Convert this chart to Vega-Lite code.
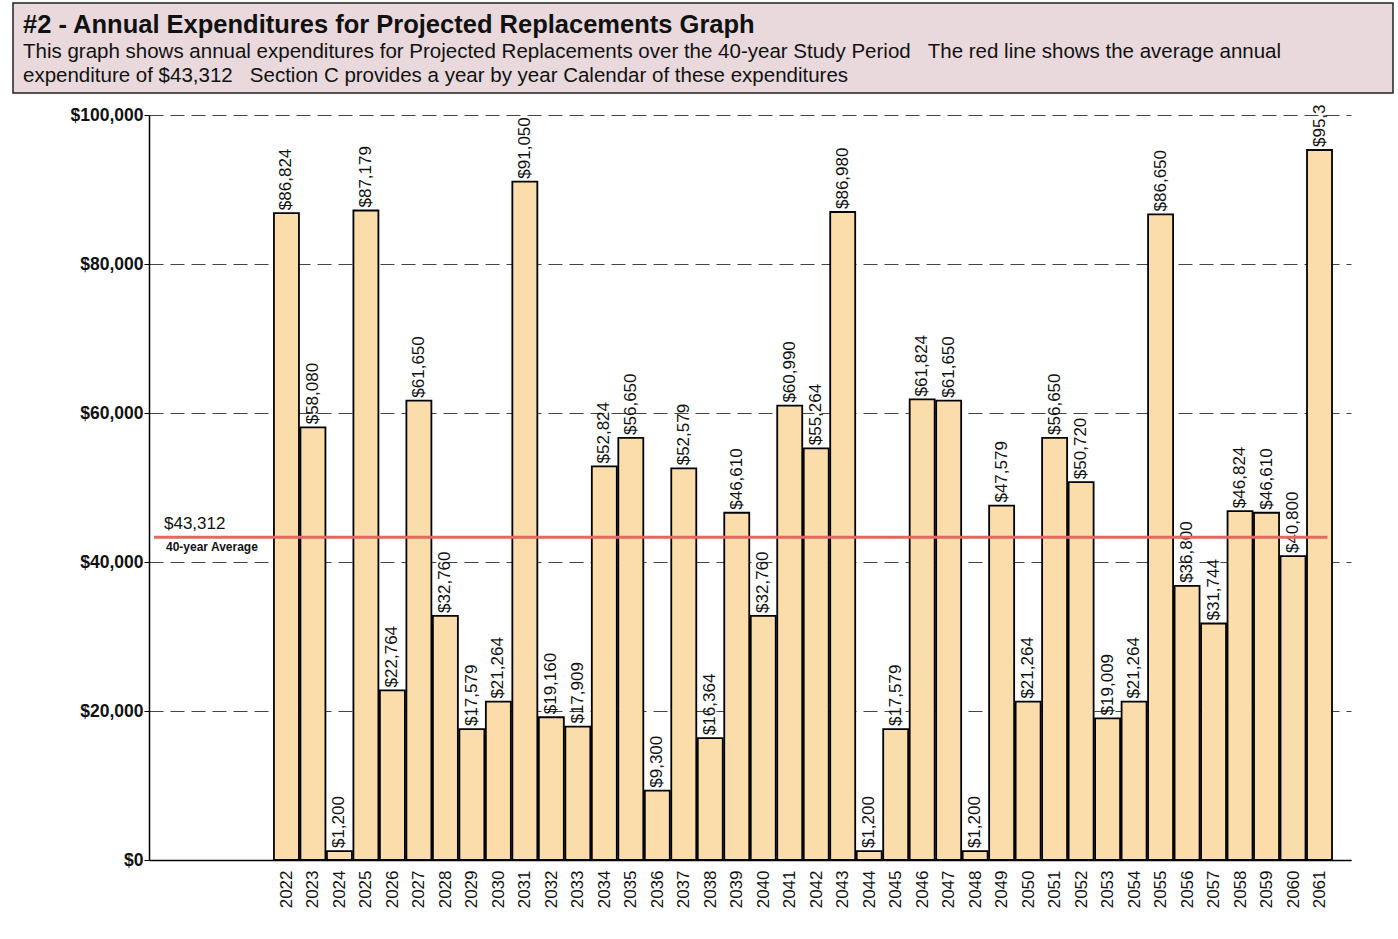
{
  "$schema": "https://vega.github.io/schema/vega-lite/v6.json",
  "background": "white",
  "padding": {"left": 12, "top": 2, "right": 0, "bottom": 0},
  "spacing": 10,
  "config": {
    "font": "Liberation Sans",
    "view": {"stroke": null},
    "axisX": {"labelOverlap": false}
  },
  "datasets": {
    "spend": [
      {"year": 2022, "value": 86824, "label": "$86,824"},
      {"year": 2023, "value": 58080, "label": "$58,080"},
      {"year": 2024, "value": 1200, "label": "$1,200"},
      {"year": 2025, "value": 87179, "label": "$87,179"},
      {"year": 2026, "value": 22764, "label": "$22,764"},
      {"year": 2027, "value": 61650, "label": "$61,650"},
      {"year": 2028, "value": 32760, "label": "$32,760"},
      {"year": 2029, "value": 17579, "label": "$17,579"},
      {"year": 2030, "value": 21264, "label": "$21,264"},
      {"year": 2031, "value": 91050, "label": "$91,050"},
      {"year": 2032, "value": 19160, "label": "$19,160"},
      {"year": 2033, "value": 17909, "label": "$17,909"},
      {"year": 2034, "value": 52824, "label": "$52,824"},
      {"year": 2035, "value": 56650, "label": "$56,650"},
      {"year": 2036, "value": 9300, "label": "$9,300"},
      {"year": 2037, "value": 52579, "label": "$52,579"},
      {"year": 2038, "value": 16364, "label": "$16,364"},
      {"year": 2039, "value": 46610, "label": "$46,610"},
      {"year": 2040, "value": 32760, "label": "$32,760"},
      {"year": 2041, "value": 60990, "label": "$60,990"},
      {"year": 2042, "value": 55264, "label": "$55,264"},
      {"year": 2043, "value": 86980, "label": "$86,980"},
      {"year": 2044, "value": 1200, "label": "$1,200"},
      {"year": 2045, "value": 17579, "label": "$17,579"},
      {"year": 2046, "value": 61824, "label": "$61,824"},
      {"year": 2047, "value": 61650, "label": "$61,650"},
      {"year": 2048, "value": 1200, "label": "$1,200"},
      {"year": 2049, "value": 47579, "label": "$47,579"},
      {"year": 2050, "value": 21264, "label": "$21,264"},
      {"year": 2051, "value": 56650, "label": "$56,650"},
      {"year": 2052, "value": 50720, "label": "$50,720"},
      {"year": 2053, "value": 19009, "label": "$19,009"},
      {"year": 2054, "value": 21264, "label": "$21,264"},
      {"year": 2055, "value": 86650, "label": "$86,650"},
      {"year": 2056, "value": 36800, "label": "$36,800"},
      {"year": 2057, "value": 31744, "label": "$31,744"},
      {"year": 2058, "value": 46824, "label": "$46,824"},
      {"year": 2059, "value": 46610, "label": "$46,610"},
      {"year": 2060, "value": 40800, "label": "$40,800"},
      {"year": 2061, "value": 95300, "label": "$95,3"}
    ],
    "avg": [
      {"avg": 43312, "start": 2017, "end": 2061.3, "amount": "$43,312", "caption": "40-year Average"}
    ]
  },
  "vconcat": [
    {
      "width": 1380,
      "height": 90,
      "view": {"fill": "#e9d9dc", "stroke": "#222", "strokeWidth": 1.5},
      "data": {"values": [{"t": ""}]},
      "mark": {"type": "text", "text": ""},
      "encoding": {},
      "title": {
        "text": "#2 - Annual Expenditures for Projected Replacements Graph",
        "subtitle": [
          "This graph shows annual expenditures for Projected Replacements over the 40-year Study Period\u00a0\u00a0\u00a0The red line shows the average annual",
          "expenditure of $43,312\u00a0\u00a0\u00a0Section C provides a year by year Calendar of these expenditures"
        ],
        "anchor": "start",
        "frame": "group",
        "orient": "top",
        "offset": -83,
        "dx": 10,
        "fontSize": 25.5,
        "fontWeight": "bold",
        "color": "#111",
        "subtitleFontSize": 20.5,
        "subtitleColor": "#111",
        "subtitlePadding": 3,
        "subtitleLineHeight": 24
      }
    },
    {
      "spacing": 0,
      "hconcat": [
        {
          "width": 42,
          "height": 745,
          "data": {"values": [{"t": ""}]},
          "mark": {"type": "text", "text": ""},
          "encoding": {}
        },
        {
          "width": 1202,
          "height": 745,
          "encoding": {
            "x": {
              "field": "year", "type": "quantitative",
              "scale": {"domain": [2017, 2062], "nice": false, "zero": false},
              "axis": {
                "title": null,
                "values": [2022,2023,2024,2025,2026,2027,2028,2029,2030,2031,2032,2033,2034,2035,2036,2037,2038,2039,2040,2041,2042,2043,2044,2045,2046,2047,2048,2049,2050,2051,2052,2053,2054,2055,2056,2057,2058,2059,2060,2061],
                "format": "d",
                "labelAngle": 270,
                "labelAlign": "right",
                "labelBaseline": "middle",
                "labelFontSize": 17,
                "labelColor": "#111",
                "labelPadding": 10,
                "labelOverlap": false,
                "ticks": false,
                "grid": false,
                "domainColor": "#000",
                "domainWidth": 1.5
              }
            },
            "y": {
              "field": "value", "type": "quantitative",
              "scale": {"domain": [0, 100000], "nice": false},
              "axis": {
                "title": null,
                "values": [0, 20000, 40000, 60000, 80000, 100000],
                "format": "$,d",
                "labelFontSize": 17.5,
                "labelFontWeight": "bold",
                "labelColor": "#111",
                "labelPadding": 1,
                "tickSize": 5,
                "tickColor": "#000",
                "domainColor": "#000",
                "domainWidth": 1.5,
                "minExtent": 94,
                "grid": true,
                "gridColor": "#444",
                "gridDash": [14, 7],
                "gridWidth": 1
              }
            }
          },
          "layer": [
            {
              "data": {"name": "spend"},
              "mark": {"type": "bar", "size": 25, "fill": "#fbdcab", "stroke": "#000", "strokeWidth": 1.8}
            },
            {
              "data": {"name": "spend"},
              "mark": {"type": "text", "angle": 270, "align": "left", "baseline": "middle", "dx": 3, "fontSize": 17, "color": "#111"},
              "encoding": {
                "text": {"field": "label"}
              }
            },
            {
              "data": {"name": "avg"},
              "mark": {"type": "rule", "color": "#e2695f", "strokeWidth": 3},
              "encoding": {
                "x": {"field": "start", "type": "quantitative"},
                "x2": {"field": "end"},
                "y": {"field": "avg", "type": "quantitative"}
              }
            },
            {
              "data": {"name": "avg"},
              "mark": {"type": "text", "align": "left", "baseline": "bottom", "dx": 10, "dy": -4, "fontSize": 17, "color": "#111"},
              "encoding": {
                "x": {"field": "start", "type": "quantitative"},
                "y": {"field": "avg", "type": "quantitative"},
                "text": {"field": "amount"}
              }
            },
            {
              "data": {"name": "avg"},
              "mark": {"type": "text", "align": "left", "baseline": "top", "dx": 12, "dy": 5, "fontSize": 12, "fontWeight": "bold", "color": "#111"},
              "encoding": {
                "x": {"field": "start", "type": "quantitative"},
                "y": {"field": "avg", "type": "quantitative"},
                "text": {"field": "caption"}
              }
            }
          ]
        }
      ]
    }
  ]
}
